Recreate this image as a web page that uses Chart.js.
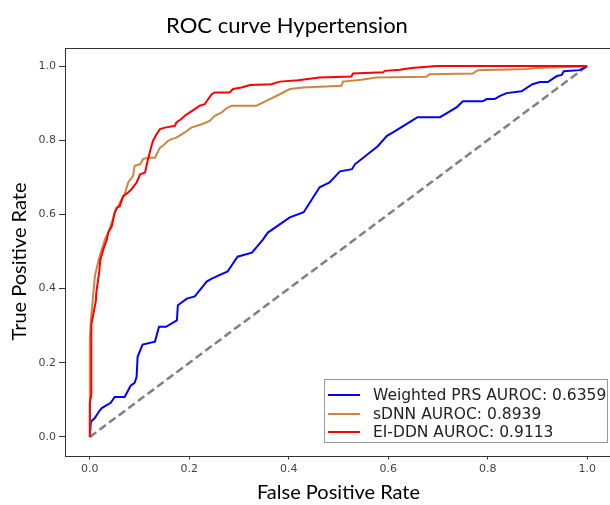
<!DOCTYPE html>
<html><head><meta charset="utf-8">
<script src="https://cdn.jsdelivr.net/npm/chart.js@4.4.0/dist/chart.umd.min.js"></script>
<style>
html,body{margin:0;padding:0;background:#fff;overflow:hidden;width:610px;height:505px}
#wrap{position:relative;width:614px;height:505px}
canvas{display:block}
</style></head>
<body><div id="wrap"><canvas id="c" width="614" height="505"></canvas></div>
<script>
const TITLE = 'ROC curve Hypertension';
const X_TITLE = 'False Positive Rate';
const Y_TITLE = 'True Positive Rate';
const TICKS = [0, 0.2, 0.4, 0.6, 0.8, 1.0];
const SERIES_LABELS = ['Weighted PRS AUROC: 0.6359', 'sDNN AUROC: 0.8939', 'EI-DDN AUROC: 0.9113'];

const BLUE_FPR = [0, 0.002, 0.010, 0.018, 0.024, 0.034, 0.042, 0.050, 0.070, 0.082, 0.090, 0.094, 0.096, 0.106, 0.131, 0.139, 0.153, 0.175, 0.177, 0.195, 0.211, 0.235, 0.245, 0.277, 0.297, 0.326, 0.348, 0.358, 0.402, 0.430, 0.462, 0.482, 0.503, 0.527, 0.533, 0.579, 0.597, 0.617, 0.643, 0.659, 0.704, 0.718, 0.738, 0.750, 0.790, 0.798, 0.814, 0.824, 0.838, 0.868, 0.890, 0.905, 0.921, 0.939, 0.949, 0.953, 0.985, 1.0];
const BLUE_TPR = [0, 0.041, 0.051, 0.068, 0.078, 0.086, 0.092, 0.108, 0.108, 0.138, 0.146, 0.162, 0.216, 0.249, 0.257, 0.297, 0.297, 0.314, 0.355, 0.373, 0.379, 0.419, 0.427, 0.446, 0.486, 0.497, 0.532, 0.551, 0.592, 0.606, 0.673, 0.686, 0.716, 0.722, 0.735, 0.784, 0.811, 0.827, 0.849, 0.862, 0.862, 0.873, 0.889, 0.905, 0.905, 0.911, 0.911, 0.919, 0.927, 0.932, 0.951, 0.957, 0.957, 0.973, 0.976, 0.986, 0.989, 1.0];

const ORANGE_FPR = [0, 0, 0, 0.003, 0.005, 0.010, 0.013, 0.019, 0.026, 0.030, 0.037, 0.044, 0.050, 0.057, 0.064, 0.070, 0.077, 0.087, 0.090, 0.101, 0.107, 0.117, 0.131, 0.141, 0.147, 0.157, 0.164, 0.174, 0.191, 0.204, 0.225, 0.241, 0.251, 0.265, 0.275, 0.285, 0.335, 0.362, 0.382, 0.402, 0.429, 0.506, 0.509, 0.546, 0.576, 0.677, 0.683, 0.770, 0.780, 0.878, 0.898, 0.985, 1.0];
const ORANGE_TPR = [0, 0.092, 0.268, 0.330, 0.357, 0.433, 0.451, 0.484, 0.514, 0.532, 0.551, 0.578, 0.605, 0.622, 0.641, 0.654, 0.686, 0.704, 0.731, 0.735, 0.749, 0.753, 0.753, 0.780, 0.785, 0.798, 0.803, 0.807, 0.821, 0.834, 0.843, 0.852, 0.866, 0.875, 0.886, 0.893, 0.893, 0.911, 0.924, 0.938, 0.942, 0.947, 0.958, 0.963, 0.969, 0.971, 0.978, 0.980, 0.989, 0.992, 0.995, 0.999, 1.0];

const RED_FPR = [0, 0, 0.003, 0.003, 0.008, 0.012, 0.013, 0.019, 0.021, 0.027, 0.034, 0.037, 0.044, 0.047, 0.050, 0.054, 0.060, 0.067, 0.077, 0.084, 0.094, 0.101, 0.111, 0.114, 0.117, 0.124, 0.127, 0.134, 0.141, 0.151, 0.171, 0.174, 0.184, 0.191, 0.201, 0.211, 0.221, 0.231, 0.238, 0.245, 0.251, 0.281, 0.288, 0.305, 0.322, 0.365, 0.382, 0.419, 0.462, 0.526, 0.529, 0.590, 0.593, 0.623, 0.647, 0.697, 1.0];
const RED_TPR = [0, 0.092, 0.114, 0.303, 0.339, 0.366, 0.389, 0.447, 0.478, 0.505, 0.532, 0.551, 0.568, 0.586, 0.605, 0.618, 0.622, 0.649, 0.659, 0.668, 0.686, 0.708, 0.713, 0.731, 0.749, 0.785, 0.798, 0.816, 0.830, 0.834, 0.839, 0.848, 0.857, 0.866, 0.875, 0.884, 0.893, 0.897, 0.911, 0.924, 0.929, 0.929, 0.938, 0.942, 0.949, 0.951, 0.958, 0.962, 0.969, 0.972, 0.980, 0.983, 0.987, 0.990, 0.995, 1.0, 1.0];

const CHANCE_FPR = [0, 1];
const CHANCE_TPR = [0, 1];

const pts = (xs, ys) => xs.map((x, i) => ({x: x, y: ys[i]}));

const COLORS = ['#0000ff', '#cd853f', '#ff0000'];

const deco = {
  id: 'deco',
  afterDatasetsDraw(chart) {
    const {ctx, chartArea: a} = chart;
    ctx.save();
    ctx.strokeStyle = '#333';
    ctx.lineWidth = 1;
    ctx.strokeRect(Math.round(a.left) + 0.5, Math.round(a.top) + 0.5, Math.round(a.right - a.left), Math.round(a.bottom - a.top));
    ctx.restore();
  },
  afterDraw(chart) {
    const ctx = chart.ctx;
    ctx.save();
    // figure title
    ctx.fillStyle = '#000';
    ctx.font = '22px Lato';
    ctx.textAlign = 'center';
    ctx.textBaseline = 'alphabetic';
    ctx.fillText(TITLE, 287, 33);
    // y title
    ctx.save();
    ctx.translate(26, 261.5);
    ctx.rotate(-Math.PI / 2);
    ctx.font = '20px Lato';
    ctx.textAlign = 'center';
    ctx.fillText(Y_TITLE, 0, 0);
    ctx.restore();
    // legend
    const bx = 324, by = 379, bw = 283, bh = 63;
    ctx.fillStyle = 'rgba(255,255,255,0.85)';
    ctx.fillRect(bx, by, bw, bh);
    ctx.strokeStyle = '#999';
    ctx.lineWidth = 1;
    ctx.strokeRect(bx + 0.5, by + 0.5, bw, bh);
    const rows = [395, 414, 432];
    ctx.font = '15.5px "DejaVu Sans"';
    ctx.textAlign = 'left';
    ctx.textBaseline = 'middle';
    SERIES_LABELS.forEach((lab, i) => {
      ctx.strokeStyle = COLORS[i];
      ctx.lineWidth = 2;
      ctx.beginPath();
      ctx.moveTo(328, rows[i]);
      ctx.lineTo(360, rows[i]);
      ctx.stroke();
      ctx.fillStyle = '#222';
      ctx.fillText(lab, 373, rows[i] + 1);
    });
    ctx.restore();
  }
};

const tickFont = {family: 'DejaVu Sans', size: 11};

new Chart(document.getElementById('c'), {
  type: 'line',
  data: {
    datasets: [
      {label: 'chance', data: pts(CHANCE_FPR, CHANCE_TPR), borderColor: '#808080', borderWidth: 2.5, borderDash: [8, 4], pointRadius: 0, order: 3},
      {label: SERIES_LABELS[0], data: pts(BLUE_FPR, BLUE_TPR), borderColor: COLORS[0], borderWidth: 2, pointRadius: 0, order: 2},
      {label: SERIES_LABELS[1], data: pts(ORANGE_FPR, ORANGE_TPR), borderColor: COLORS[1], borderWidth: 2, pointRadius: 0, order: 1},
      {label: SERIES_LABELS[2], data: pts(RED_FPR, RED_TPR), borderColor: COLORS[2], borderWidth: 2, pointRadius: 0, order: 0}
    ]
  },
  options: {
    responsive: false,
    animation: false,
    devicePixelRatio: 1,
    layout: {padding: {left: 0, right: 2, top: 47.5, bottom: 0}},
    elements: {line: {tension: 0, fill: false}},
    plugins: {legend: {display: false}, tooltip: {enabled: false}, title: {display: false}},
    scales: {
      x: {
        type: 'linear', min: -0.05, max: 1.05,
        afterBuildTicks: s => { s.ticks = TICKS.map(v => ({value: v})); },
        afterFit: s => { s.height = 49.5; },
        ticks: {callback: v => v.toFixed(1), font: tickFont, color: '#444', padding: 3, maxRotation: 0, autoSkip: false},
        grid: {display: true, drawOnChartArea: false, drawTicks: true, tickLength: 4, color: '#333'},
        border: {display: false},
        title: {display: true, text: X_TITLE, font: {family: 'Lato', size: 20}, color: '#000', padding: {top: 0, bottom: 0}}
      },
      y: {
        type: 'linear', min: -0.05, max: 1.05,
        afterBuildTicks: s => { s.ticks = TICKS.map(v => ({value: v})); },
        afterFit: s => { s.width = 65; },
        ticks: {callback: v => v.toFixed(1), font: tickFont, color: '#444', padding: 3, autoSkip: false},
        grid: {display: true, drawOnChartArea: false, drawTicks: true, tickLength: 6, color: '#333'},
        border: {display: false},
        title: {display: false}
      }
    }
  },
  plugins: [deco]
});
</script>
</body></html>
